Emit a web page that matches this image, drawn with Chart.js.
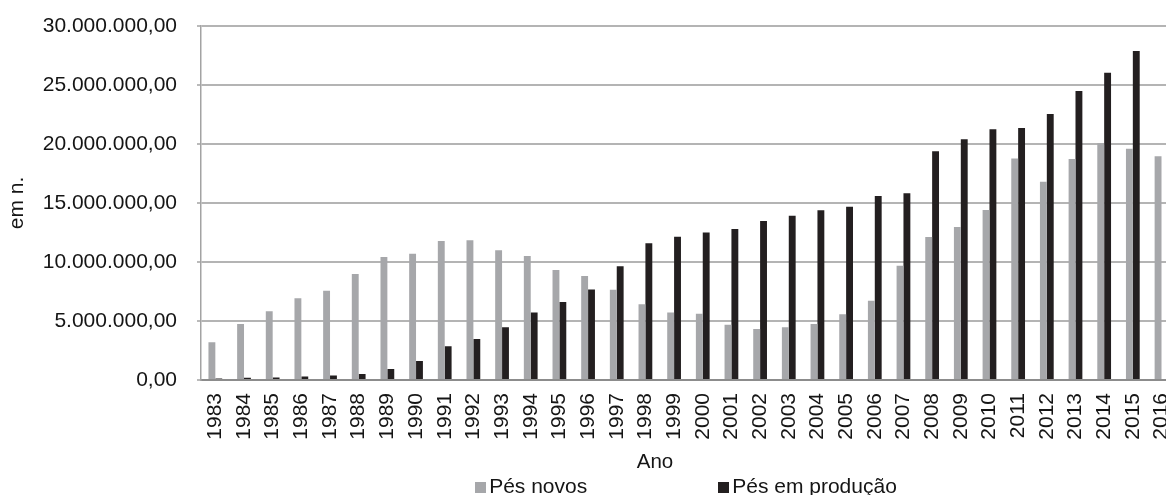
<!DOCTYPE html>
<html lang="pt-BR">
<head>
<meta charset="utf-8">
<title>Pés novos e pés em produção, 1983–2016</title>
<script src="https://cdn.jsdelivr.net/npm/chart.js@4.4.1/dist/chart.umd.min.js"></script>
<style>
  html, body { margin: 0; padding: 0; background: #ffffff; overflow: hidden; }
  #wrap { position: relative; width: 1200px; height: 495px; }
</style>
</head>
<body>
<div id="wrap"><canvas id="grafico" width="1200" height="495"></canvas></div>
<script>
// Anos (categorias do eixo X)
const anos = [
  '1983','1984','1985','1986','1987','1988','1989','1990','1991','1992',
  '1993','1994','1995','1996','1997','1998','1999','2000','2001','2002',
  '2003','2004','2005','2006','2007','2008','2009','2010','2011','2012',
  '2013','2014','2015','2016'
];

// Nomes das séries
const nomeNovos = 'Pés novos';
const nomeProducao = 'Pés em produção';

// Pés novos (em n.)
const pesNovos = [
   3190000,  4750000,  5820000,  6920000,  7570000,  8980000, 10420000, 10700000, 11780000, 11840000,
  10990000, 10510000,  9320000,  8810000,  7650000,  6410000,  5710000,  5620000,  4690000,  4320000,
   4460000,  4750000,  5570000,  6720000,  9690000, 12120000, 12970000, 14410000, 18780000, 16810000,
  18730000, 20060000, 19600000, 18960000
];

// Pés em produção (em n.); o valor de 2016 fica fora da área desenhada
const pesEmProducao = [
    120000,   200000,   220000,   300000,   380000,   500000,   930000,  1610000,  2850000,  3470000,
   4460000,  5730000,  6610000,  7680000,  9630000, 11580000, 12150000, 12510000, 12800000, 13470000,
  13930000, 14380000, 14690000, 15590000, 15820000, 19380000, 20400000, 21240000, 21360000, 22540000,
  24490000, 26040000, 27880000, null
];

// Marcas do eixo Y
const marcasY = [0, 5000000, 10000000, 15000000, 20000000, 25000000, 30000000];

const FONTE = '"Liberation Sans", Arial, Helvetica, sans-serif';
const COR_TEXTO = '#151515';
const COR_NOVOS = '#a6a7aa';
const COR_PRODUCAO = '#231f20';

// 30000000 -> "30.000.000,00"
function formatoBR(v) {
  const partes = Number(v).toFixed(2).split('.');
  return partes[0].replace(/\B(?=(\d{3})+(?!\d))/g, '.') + ',' + partes[1];
}

// Título do eixo X e legenda desenhados sobre o canvas
const legendaETitulo = {
  id: 'legendaETitulo',
  afterDraw(chart) {
    const ctx = chart.ctx;
    ctx.save();
    ctx.fillStyle = COR_TEXTO;
    ctx.textBaseline = 'middle';

    ctx.font = '20.5px ' + FONTE;
    ctx.textAlign = 'center';
    ctx.fillText('Ano', 655, 462);

    ctx.font = '21px ' + FONTE;
    ctx.textAlign = 'left';
    const caixa = 11, folgaTexto = 3, folgaItem = 131, yLeg = 487;
    const itens = chart.data.datasets.map(ds => ({
      texto: ds.label,
      cor: ds.backgroundColor,
      largura: ctx.measureText(ds.label).width
    }));
    const total = itens.reduce((s, it) => s + caixa + folgaTexto + it.largura, 0) + folgaItem * (itens.length - 1);
    let x = 686 - total / 2;
    itens.forEach(it => {
      ctx.fillStyle = it.cor;
      ctx.fillRect(Math.round(x), yLeg - 5, caixa, caixa);
      ctx.fillStyle = COR_TEXTO;
      ctx.fillText(it.texto, x + caixa + folgaTexto, yLeg);
      x += caixa + folgaTexto + it.largura + folgaItem;
    });
    ctx.restore();
  }
};

new Chart(document.getElementById('grafico'), {
  type: 'bar',
  data: {
    labels: anos,
    datasets: [
      { label: nomeNovos, data: pesNovos, backgroundColor: COR_NOVOS, borderWidth: 0 },
      { label: nomeProducao, data: pesEmProducao, backgroundColor: COR_PRODUCAO, borderWidth: 0 }
    ]
  },
  options: {
    responsive: false,
    animation: false,
    devicePixelRatio: 1,
    categoryPercentage: 0.48,
    barPercentage: 1.0,
    layout: { padding: { top: 26, right: 19.8, bottom: 0, left: 0 } },
    plugins: {
      legend: { display: false },
      tooltip: { enabled: false }
    },
    scales: {
      x: {
        grid: { display: false, drawTicks: false },
        border: { display: true, color: '#8c8c8c', width: 2 },
        ticks: {
          autoSkip: false,
          minRotation: 90,
          maxRotation: 90,
          padding: 13,
          color: COR_TEXTO,
          font: { family: FONTE, size: 21 }
        },
        afterFit(scale) { scale.height = 115; }
      },
      y: {
        min: 0,
        max: 30000000,
        afterBuildTicks(scale) { scale.ticks = marcasY.map(v => ({ value: v })); },
        grid: { color: '#b4b4b4', lineWidth: 2, drawTicks: true, tickLength: 4, tickColor: '#a3a3a3', tickWidth: 1.5 },
        border: { display: true, color: '#a3a3a3', width: 1.5 },
        ticks: {
          padding: 20,
          color: COR_TEXTO,
          font: { family: FONTE, size: 21 },
          callback: v => formatoBR(v)
        },
        title: {
          display: true,
          text: 'em n.',
          color: COR_TEXTO,
          font: { family: FONTE, size: 21 },
          padding: { top: 5, bottom: 0 }
        },
        afterFit(scale) {
          scale.width = 201;
          // a margem vertical fica a cargo do layout.padding
          scale.paddingTop = 0;
          scale.paddingBottom = 0;
        }
      }
    }
  },
  plugins: [legendaETitulo]
});
</script>
</body>
</html>
